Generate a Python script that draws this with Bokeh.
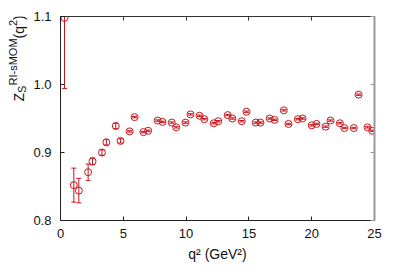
import math
from bokeh.plotting import figure
from bokeh.layouts import row
from bokeh.models import (LinearAxis, FixedTicker, PrintfTickFormatter, Label,
                          Range1d, ColumnDataSource)
from bokeh.embed import file_html
from bokeh.resources import INLINE

# ---- data ----
q2 = [0.32, 1.06, 1.46, 2.20, 2.55, 3.30, 3.65, 4.40, 4.78, 5.50, 5.90, 6.60, 6.98,
      7.74, 8.12, 8.86, 9.21, 9.95, 10.35, 11.07, 11.45, 12.20, 12.56, 13.31, 13.68,
      14.43, 14.81, 15.55, 15.92, 16.66, 17.04, 17.78, 18.15, 18.90, 19.27, 20.00,
      20.38, 21.10, 21.50, 22.24, 22.60, 23.35, 23.73, 24.44, 24.82]
zs = [1.098, 0.852, 0.844, 0.871, 0.887, 0.900, 0.915, 0.939, 0.917, 0.931, 0.952,
      0.930, 0.932, 0.947, 0.945, 0.944, 0.937, 0.944, 0.956, 0.954, 0.949, 0.943,
      0.946, 0.955, 0.950, 0.946, 0.960, 0.944, 0.944, 0.950, 0.948, 0.962, 0.942,
      0.949, 0.950, 0.940, 0.942, 0.938, 0.947, 0.943, 0.936, 0.936, 0.985, 0.937,
      0.932]
err = [0.104, 0.025, 0.018, 0.012, 0.005, 0.004, 0.004, 0.004, 0.003, 0.001, 0.001,
       0.001, 0.001, 0.001, 0.001, 0.001, 0.001, 0.001, 0.001, 0.001, 0.001, 0.001,
       0.001, 0.001, 0.001, 0.001, 0.001, 0.001, 0.001, 0.001, 0.001, 0.001, 0.001,
       0.001, 0.001, 0.001, 0.001, 0.001, 0.001, 0.001, 0.001, 0.001, 0.001, 0.001,
       0.001]

x_ticks = [0, 5, 10, 15, 20, 25]
y_ticks = [0.8, 0.9, 1.0, 1.1]

RED = "#c8161d"
FONT = "Liberation Sans"
TXT = "#111111"

lo = [z - e for z, e in zip(zs, err)]
hi = [z + e for z, e in zip(zs, err)]
src = ColumnDataSource(dict(x=q2, y=zs, lo=lo, hi=hi))

LW = 30  # width of the strip that holds the rotated y-axis title
p = figure(width=399 - LW, height=279, output_backend="svg", toolbar_location=None,
           x_range=Range1d(0, 25), y_range=Range1d(0.8, 1.1),
           min_border_left=60 - LW, min_border_right=25, min_border_top=16,
           min_border_bottom=59, background_fill_color="white",
           border_fill_color="white")
p.grid.visible = False
p.outline_line_color = "#333333"
p.outline_line_width = 1

# error bars
p.segment(x0="x", y0="lo", x1="x", y1="hi", source=src, line_color=RED, line_width=1)
p.scatter(x="x", y="lo", source=src, marker="dash", size=5, line_color=RED, line_width=1)
p.scatter(x="x", y="hi", source=src, marker="dash", size=5, line_color=RED, line_width=1)
# points
p.scatter(x="x", y="y", source=src, marker="circle", size=7, fill_color=None,
          line_color=RED, line_width=1)

def style(ax, color="#222222", width=1):
    ax.major_tick_in = 4
    ax.major_tick_out = 0
    ax.minor_tick_in = 0
    ax.minor_tick_out = 0
    ax.axis_line_color = color
    ax.axis_line_width = width
    ax.major_tick_line_color = color
    ax.major_label_text_font = FONT
    ax.major_label_text_color = TXT
    ax.major_label_text_font_size = "13px"
    ax.major_label_standoff = 8

xa = p.xaxis[0]
xa.ticker = FixedTicker(ticks=x_ticks)
style(xa)
xa.axis_label = "q\u00b2 (GeV\u00b2)"
xa.axis_label_text_font = FONT
xa.axis_label_text_font_style = "normal"
xa.axis_label_text_font_size = "14px"
xa.axis_label_text_color = TXT
xa.axis_label_standoff = 5

ya = p.yaxis[0]
ya.ticker = FixedTicker(ticks=y_ticks)
ya.formatter = PrintfTickFormatter(format="%.1f")
style(ya)
ya.major_label_standoff = 9

# mirrored ticks on top and right (no labels)
top = LinearAxis(ticker=FixedTicker(ticks=x_ticks), formatter=PrintfTickFormatter(format=""))
style(top, color="#333333")
top.major_label_standoff = 0
p.add_layout(top, "above")
right = LinearAxis(ticker=FixedTicker(ticks=y_ticks), formatter=PrintfTickFormatter(format=""))
style(right, color="#999999", width=2)
right.major_label_standoff = 0
p.add_layout(right, "right")

# strip with the rotated y-axis title Z_S^{RI-sMOM}(q^2)
lf = figure(width=LW, height=279, output_backend="svg", toolbar_location=None,
            x_range=Range1d(0, 1), y_range=Range1d(0, 1), min_border=0,
            x_axis_location=None, y_axis_location=None,
            background_fill_color="white", border_fill_color="white")
lf.grid.visible = False
lf.outline_line_color = None
pieces = [  # text, x, y (screen px from lower-left), font size
    ("Z", 18, 119, 14),
    ("S", 21, 127.6, 11),
    ("RI-sMOM", 12.5, 135, 11),
    ("(q", 18, 182, 14),
    ("2", 12.5, 194.4, 11),
    (")", 18, 200.5, 14),
]
for t, bx, by, fs in pieces:
    lf.add_layout(Label(x=bx, y=by, x_units="screen", y_units="screen", text=t,
                        angle=math.pi / 2, text_align="left",
                        text_baseline="alphabetic", text_font=FONT,
                        text_font_size=f"{fs}px", text_color=TXT))

layout = row(lf, p)
open("out.html", "w").write(file_html(layout, INLINE))
